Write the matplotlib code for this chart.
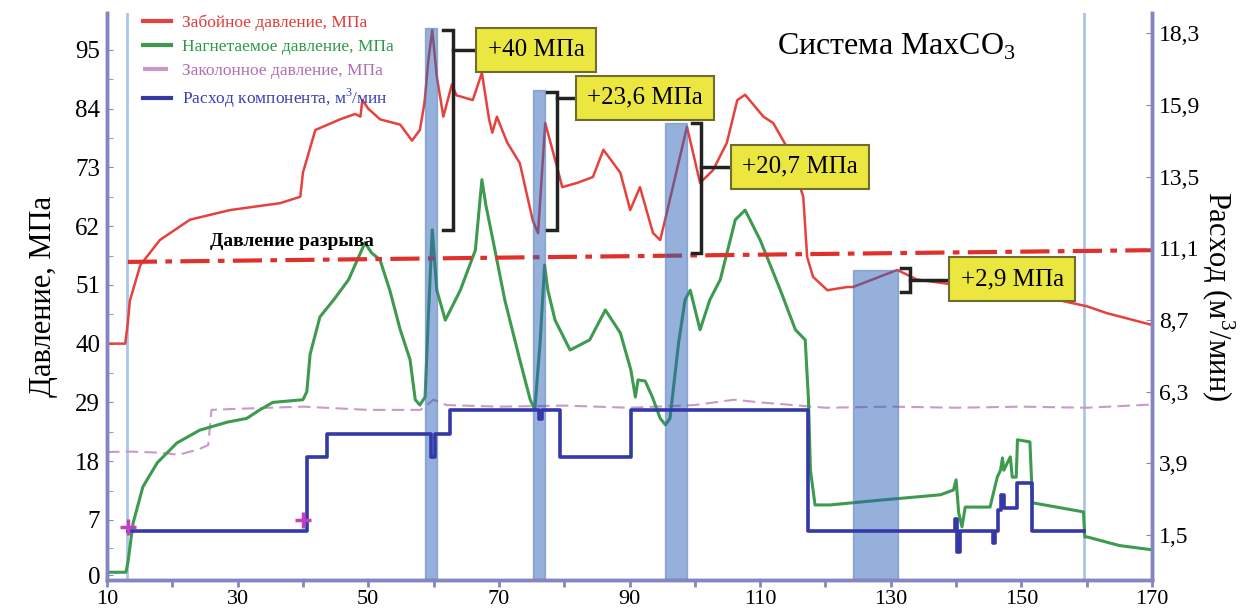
import matplotlib
matplotlib.use('Agg')
import matplotlib.pyplot as plt

plt.rcParams['font.family'] = ['Liberation Serif', 'DejaVu Serif']
plt.rcParams['mathtext.fontset'] = 'custom'
plt.rcParams['mathtext.rm'] = 'Liberation Serif'

# --- data (time in min) ---
# bottomhole pressure, MPa
red_t = [10, 12.8, 13.2, 13.5, 15.1, 18.1, 22.7, 28.8, 36.5, 39.6, 40.0, 41.9, 45.7, 48.0, 48.8, 49.1,
         50.0, 51.8, 54.9, 56.7, 57.9, 58.6, 59.2, 59.8, 60.5, 61.5, 62.8, 63.5, 66.0, 67.4, 68.5, 69.0,
         69.7, 70.5, 71.3, 73.2, 75.2, 76.0, 77.1, 78.9, 79.7, 82.0, 84.4, 86.0, 88.6, 90.1, 91.6, 93.6,
         94.7, 95.8, 98.8, 100.8, 102.8, 104.9, 106.5, 107.7, 110.5, 112.0, 114.1, 116.6, 117.2, 118.1,
         120.3, 123.3, 124.2, 131.0, 134.0, 140.0, 148.0, 155.5, 160.0, 163.1, 170]
red_p = [40, 40, 44, 48, 54.7, 59.4, 63.2, 65, 66.3, 67.5, 72, 80, 82, 83, 82.5, 85.6,
         84, 82, 81, 78, 80, 85, 93, 98.7, 90, 82.5, 88.5, 86.5, 85.6, 90.7, 82, 79.5,
         82.5, 80, 77.6, 73.8, 63, 60.7, 81.3, 73.1, 69.3, 70.1, 71.2, 76.3, 72, 65, 69.3, 60.7,
         59.4, 65, 80.6, 70.1, 72.5, 77.6, 85.6, 86.6, 82.5, 81.3, 76.8, 67.5, 56.2, 52.5,
         50, 50.6, 50.6, 53.8, 52, 51, 49.5, 48.2, 47, 45.7, 43.5]

# injection pressure, MPa
green_t = [10, 12.9, 13.2, 14.0, 15.5, 17.7, 20.7, 24.2, 28.4, 31.4, 33.4, 35.4, 40.0, 40.6, 41.1, 42.6,
           44.9, 47.0, 49.5, 50.5, 51.8, 53.3, 54.9, 56.4, 57.2, 57.9, 58.7, 59.2, 59.8, 60.5, 61.8, 64.1,
           66.4, 67.4, 68.0, 69.4, 70.9, 73.2, 74.8, 75.5, 76.3, 77.0, 77.5, 78.6, 80.9, 83.9, 86.3, 88.6,
           90.2, 90.9, 91.3, 92.4, 93.5, 94.7, 95.5, 96.2, 97.5, 98.5, 99.3, 100.8, 102.3, 103.9, 106.2,
           107.7, 110.0, 113.1, 115.4, 116.9, 117.4, 117.7, 118.4, 120.7, 128.4, 137.6, 139.6, 140.0, 140.4,
           140.9, 141.4, 145.2, 146.3, 146.8, 147.1, 147.3, 148.3, 148.6, 149.2, 149.4, 151.3, 151.7, 159.5,
           159.7, 160.1, 165.0, 170]
green_p = [-2.8, -2.8, -1, 6.4, 13.2, 17.7, 21.4, 23.8, 25.3, 26, 27.6, 29, 29.5, 31, 38, 45,
           48.5, 52, 58.9, 57, 55.7, 50, 42.6, 37, 29.5, 28.5, 30, 45, 61.3, 50, 44.4, 50,
           57.5, 70.7, 66, 57.5, 48.2, 37, 29.5, 27.6, 40, 54.7, 50, 44.4, 38.8, 40.7, 46.3, 42,
           35.1, 30, 33.2, 33, 30, 26, 24.8, 26, 40, 48.2, 50, 42.6, 48.2, 52, 63.2,
           65, 59.4, 50, 42.6, 40.7, 29.5, 16.3, 9.8, 9.8, 10.7, 11.7, 12.6, 14.5, 8.3,
           5.7, 9.4, 9.4, 15, 16.3, 18.6, 16.3, 18.8, 15, 15, 22, 21.6, 10.2, 8.5,
           3.8, 3.8, 2.2, 1.4]

# annulus pressure, MPa
pink_t = [10, 13, 18, 21, 24, 25.5, 26, 30, 40, 50, 58, 60, 62, 70, 80, 90, 100, 106, 110, 120, 130,
          140, 150, 160, 170]
pink_p = [19.7, 19.8, 19.6, 19.2, 20.2, 21, 27.6, 27.8, 28.2, 27.6, 27.6, 29.5, 28.5, 28.2, 28.4,
          28, 28.5, 29.5, 29, 28, 28.2, 28, 28.2, 28, 28.6]

# flow rate, m3/min (right axis)
blue_t = [13.2, 40.6, 43.7, 59.6, 60.2, 62.5, 76.1, 76.6, 79.4, 90.2, 117.4, 139.8, 140.2, 140.6,
          145.7, 146.0, 146.4, 146.9, 147.3, 149.4, 151.6, 159.6]
blue_q = [1.65, 4.1, 4.9, 4.1, 4.9, 5.7, 5.4, 5.7, 4.1, 5.7, 1.65, 2.05, 0.95, 1.65,
          1.25, 1.65, 2.35, 2.85, 2.4, 3.25, 1.65, 1.65]
cross_t = [13.2, 40.0]
cross_q = [1.78, 2.0]

# fracture pressure line
frac_t = [13.2, 170]
frac_p = [55.3, 57.5]

# MaxCO3 stages
stage_l = [58.7, 75.2, 95.5, 124.2]
stage_r = [60.5, 77.1, 98.8, 131.1]
stage_top = [99.1, 87.5, 81.3, 53.8]

# pressure gains
gain_labels = ['+40 МПа', '+23,6 МПа', '+20,7 МПа', '+2,9 МПа']
gain_top = [98.7, 87.1, 81.3, 54.2]
gain_bot = [61.3, 61.3, 57.0, 49.7]
gain_x = [63.0, 78.9, 101.0, 133.0]
gain_box_t = [75.7, 92.4, 116.1, 148.6]
gain_box_p = [95.0, 86.0, 73.1, 52.1]

vline_t = [13.1, 159.6]

left_ticks = [-3.4, 7, 18, 29, 40, 51, 62, 73, 84, 95]
left_labels = ['0', '7', '18', '29', '40', '51', '62', '73', '84', '95']
right_ticks = [1.5, 3.9, 6.3, 8.7, 11.1, 13.5, 15.9, 18.3]
x_ticks = [10, 30, 50, 70, 90, 110, 130, 150, 170]

spine_col = '#8585c2'

fig = plt.figure(figsize=(12.54, 6.14), dpi=100)
ax = fig.add_axes([0.0853, 0.0554, 0.8334, 0.9234])
ax2 = ax.twinx()

for t in vline_t:
    ax.axvline(t, color='#aac6ea', lw=2, zorder=1)

l_red, = ax.plot(red_t, red_p, color='#e5413d', lw=1.8, zorder=3)
l_green, = ax.plot(green_t, green_p, color='#3d9a4e', lw=2.2, zorder=3)
l_pink, = ax.plot(pink_t, pink_p, color='#c99ac9', lw=1.5, dashes=(6, 3), zorder=2)
ax.plot(frac_t, frac_p, color='#e0302c', lw=3, dashes=(7, 2, 1.6, 2), zorder=3)

ymin, ymax = -4.25, 101.9
for l, r, top in zip(stage_l, stage_r, stage_top):
    ax.bar((l + r) / 2, top - ymin, width=r - l, bottom=ymin, color='#2a62b8', alpha=0.5,
           edgecolor='#4f76b4', lw=1, zorder=4)

for i in range(len(gain_labels)):
    x1 = gain_x[i]
    x0 = x1 - 1.5
    ym = gain_box_p[i] if i < 3 else (gain_top[i] + gain_bot[i]) / 2
    ax.plot([x0, x1, x1, x0], [gain_top[i], gain_top[i], gain_bot[i], gain_bot[i]],
            color='#222222', lw=2.5, zorder=5, solid_joinstyle='miter')
    ax.plot([x1, gain_box_t[i] - 8], [ym, ym], color='#222222', lw=2.5, zorder=5)
    ax.text(gain_box_t[i], gain_box_p[i], gain_labels[i], fontsize=18, ha='center', va='center',
            zorder=6, bbox=dict(boxstyle='square,pad=0.45', fc='#ece640', ec='#6e6d2e', lw=1.5))

ax.text(38.3, 59.2, 'Давление разрыва', fontsize=14, fontweight='bold', ha='center', va='center')
ax.text(0.755, 0.94, 'Система MaxCO$_3$', transform=ax.transAxes, fontsize=23, ha='center', va='center')

l_blue, = ax2.step(blue_t, blue_q, where='post', color='#3539a8', lw=2.6, zorder=3)
ax2.plot(cross_t, cross_q, '+', color='#c040c0', ms=11, mew=2.5, zorder=4)

ax.set_xlim(10, 170)
ax.set_ylim(ymin, ymax)
ax2.set_ylim(0, 18.97)

ax.set_xticks(x_ticks)
ax.set_xticks([20, 40, 60, 80, 100, 120, 140, 160], minor=True)
ax.set_yticks(left_ticks)
ax.set_yticklabels(left_labels)
ax.set_yticks([1.8, 12.5, 23.5, 34.5, 45.5, 56.5, 67.5, 78.5, 89.5], minor=True)
ax2.set_yticks(right_ticks)
ax2.set_yticklabels([str(v).replace('.', ',') for v in right_ticks])

for a in (ax, ax2):
    a.spines['top'].set_visible(False)
    for s in ('left', 'right', 'bottom'):
        a.spines[s].set_color(spine_col)
        a.spines[s].set_linewidth(2.5)
ax.tick_params(axis='y', which='both', direction='in', length=4, color=spine_col, labelsize=18, pad=5)
ax.tick_params(axis='x', which='both', direction='out', length=5, width=2, color=spine_col,
               labelsize=16, pad=2)
ax2.tick_params(axis='y', direction='in', length=4, color=spine_col, labelsize=17, pad=5)

ax.set_ylabel('Давление, МПа', fontsize=22, labelpad=12)
ax2.set_ylabel('Расход (м$^3$/мин)', fontsize=22, rotation=270, labelpad=26)

leg = ax2.legend([l_red, l_green, l_pink, l_blue],
                 ['Забойное давление, МПа', 'Нагнетаемое давление, МПа',
                  'Заколонное давление, МПа', 'Расход компонента, м$^3$/мин'],
                 loc='upper left', bbox_to_anchor=(0.02, 1.025), frameon=False, fontsize=12.5,
                 handlelength=1.6, handletextpad=0.6, labelspacing=0.45)
for txt, c in zip(leg.get_texts(), ['#e03a3a', '#2e9a46', '#b070b0', '#3a40b0']):
    txt.set_color(c)
for h in leg.get_lines():
    h.set_linewidth(3)

fig.savefig('out.png', dpi=100)
